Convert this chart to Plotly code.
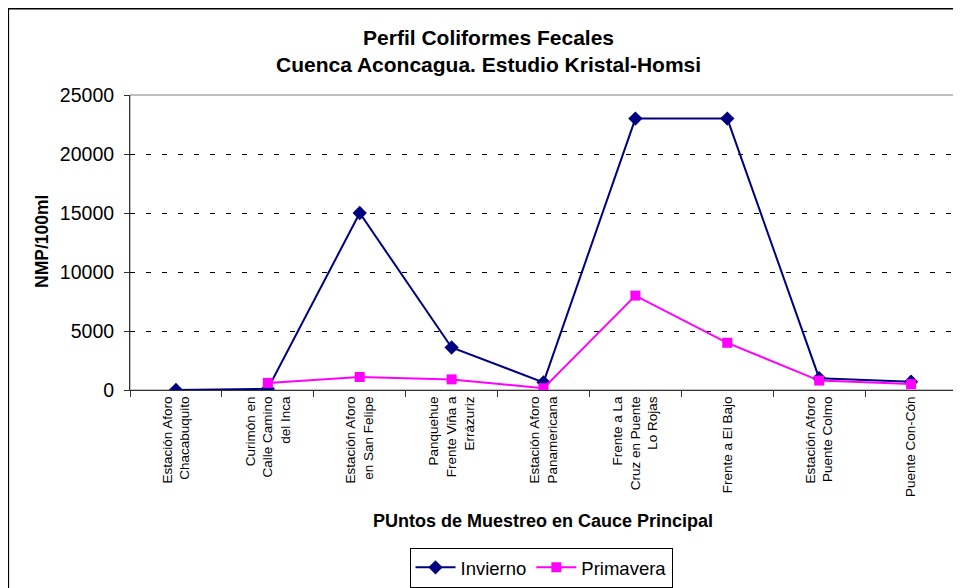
import plotly.graph_objects as go

puntos = [
    "Estación Aforo<br>Chacabuquito",
    "Curimón en<br>Calle Camino<br>del Inca",
    "Estación Aforo<br>en San Felipe",
    "Panquehue<br>Frente Viña a<br>Errázuriz",
    "Estación Aforo<br>Panamericana",
    "Frente a La<br>Cruz en Puente<br>Lo Rojas",
    "Frente a El Bajo",
    "Estación Aforo<br>Puente Colmo",
    "Puente Con-Cón",
]
invierno = [0, 100, 15000, 3600, 650, 23000, 23000, 1000, 700]
primavera = [None, 600, 1100, 900, 150, 8000, 4000, 800, 500]

fuente = "Arial, Liberation Sans, sans-serif"

fig = go.Figure()
fig.add_trace(go.Scatter(x=puntos, y=invierno, name="Invierno", mode="lines+markers",
                         line=dict(color="#000080", width=2),
                         marker=dict(symbol="diamond", size=11, color="#000080")))
fig.add_trace(go.Scatter(x=puntos, y=primavera, name="Primavera", mode="lines+markers",
                         line=dict(color="#FF00FF", width=2),
                         marker=dict(symbol="square", size=10, color="#FF00FF")))

# la pagina tiene 8px de margen, la figura se achica para caber en la ventana
fig.update_layout(
    width=953, height=580,
    margin=dict(l=122, r=4, t=87, b=198, autoexpand=False),
    paper_bgcolor="white", plot_bgcolor="white",
    font=dict(family=fuente, color="black"),
    showlegend=True,
    legend=dict(orientation="h", x=0.497, xanchor="center", y=-0.535, yanchor="top",
                font=dict(size=18.5), bordercolor="black", borderwidth=1,
                itemwidth=40, tracegroupgap=0),
)
fig.update_xaxes(type="category", range=[-0.5, 8.5], showgrid=False, automargin=False,
                 showline=True, linecolor="#333", linewidth=1,
                 ticks="outside", tickson="boundaries", ticklen=6, tickcolor="#333",
                 tickangle=-90, tickfont=dict(size=13.5))
fig.update_yaxes(range=[0, 25000], dtick=5000, tickformat="d", showgrid=True, gridcolor="black",
                 griddash="5px,11px", gridwidth=1, zeroline=False, automargin=False,
                 showline=True, linecolor="#333", linewidth=1,
                 ticks="outside", ticklen=5, tickcolor="#333",
                 tickfont=dict(size=19.5), ticklabelstandoff=6)

# marco gris del area de trazado
fig.add_shape(type="rect", xref="paper", yref="paper", x0=0, x1=1, y0=0, y1=1,
              line=dict(color="#808080", width=1), layer="below")
# marco negro del grafico
fig.add_shape(type="rect", xref="paper", yref="paper", x0=-0.148, x1=1.2, y0=-1.0, y1=1.295,
              line=dict(color="black", width=3))

fig.add_annotation(text="<b>Perfil Coliformes Fecales<br>Cuenca Aconcagua. Estudio Kristal-Homsi</b>",
                   xref="paper", yref="paper", x=0.434, y=1.15, showarrow=False,
                   font=dict(size=21), xanchor="center", yanchor="middle")
fig.add_annotation(text="<b>PUntos de Muestreo en Cauce Principal</b>",
                   xref="paper", yref="paper", x=0.4995, y=-0.444, showarrow=False,
                   font=dict(size=18), xanchor="center", yanchor="middle")
fig.add_annotation(text="<b>NMP/100ml</b>", textangle=-90,
                   xref="paper", yref="paper", x=-0.1064, y=0.502, showarrow=False,
                   font=dict(size=17.5), xanchor="center", yanchor="middle")

fig.write_html("out.html")
